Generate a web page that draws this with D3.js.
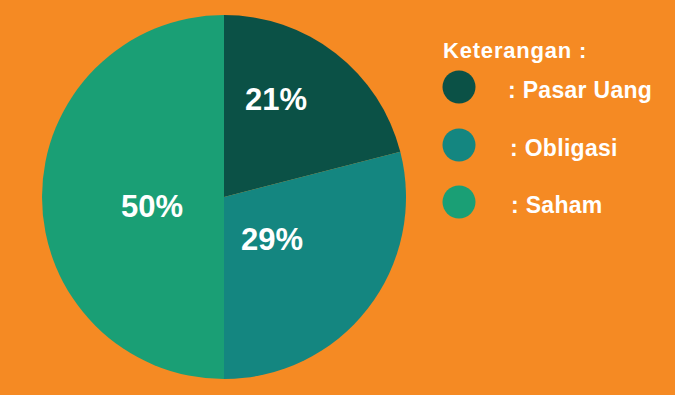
<!DOCTYPE html>
<html><head><meta charset="utf-8">
<script src="https://cdn.jsdelivr.net/npm/d3@7"></script>
<style>html,body{margin:0;padding:0;background:#f58a23;}svg{display:block;}</style>
</head><body>
<svg id="c" width="675" height="395"></svg>
<script>
const categories = ["Pasar Uang", "Obligasi", "Saham"];
const values = [21, 29, 50];
const labels = ["21%", "29%", "50%"];
const colors = ["#0b5146", "#148680", "#1a9f75"];
const legendTitle = "Keterangan :";

const svg = d3.select("#c");
svg.append("rect").attr("width", 675).attr("height", 395).attr("fill", "#f58a23");
const cx = 224, cy = 197, r = 182;
const pie = d3.pie().sort(null).value(d => d)(values);
const arc = d3.arc().innerRadius(0).outerRadius(r);
const g = svg.append("g").attr("transform", `translate(${cx},${cy})`);
g.selectAll("path").data(pie).enter().append("path")
  .attr("d", arc).attr("fill", (d, i) => colors[i]);

const labelPos = [[52, -87], [48, 53], [-72, 20]];
g.selectAll("text").data(pie).enter().append("text")
  .attr("x", (d, i) => labelPos[i][0]).attr("y", (d, i) => labelPos[i][1])
  .attr("text-anchor", "middle")
  .attr("font-family", "Liberation Sans, Arial, sans-serif")
  .attr("font-weight", "bold").attr("font-size", 31).attr("fill", "#fff")
  .text((d, i) => labels[i]);

svg.append("text").attr("x", 443).attr("y", 58)
  .attr("font-family", "Liberation Sans, Arial, sans-serif")
  .attr("font-weight", "bold").attr("font-size", 22).attr("letter-spacing", 0.8).attr("fill", "#fff")
  .text(legendTitle);
const ly = [87, 145, 202];
const tx = [508, 510, 511];
const leg = svg.selectAll("g.leg").data(categories).enter().append("g").attr("class", "leg");
leg.append("circle").attr("cx", 459).attr("cy", (d, i) => ly[i]).attr("r", 16.5)
  .attr("fill", (d, i) => colors[i]);
leg.append("text").attr("x", (d, i) => tx[i]).attr("y", (d, i) => ly[i] + 11)
  .attr("font-family", "Liberation Sans, Arial, sans-serif")
  .attr("font-weight", "bold").attr("font-size", 23).attr("letter-spacing", 0.3).attr("fill", "#fff")
  .text(d => ": " + d);
</script>
</body></html>
